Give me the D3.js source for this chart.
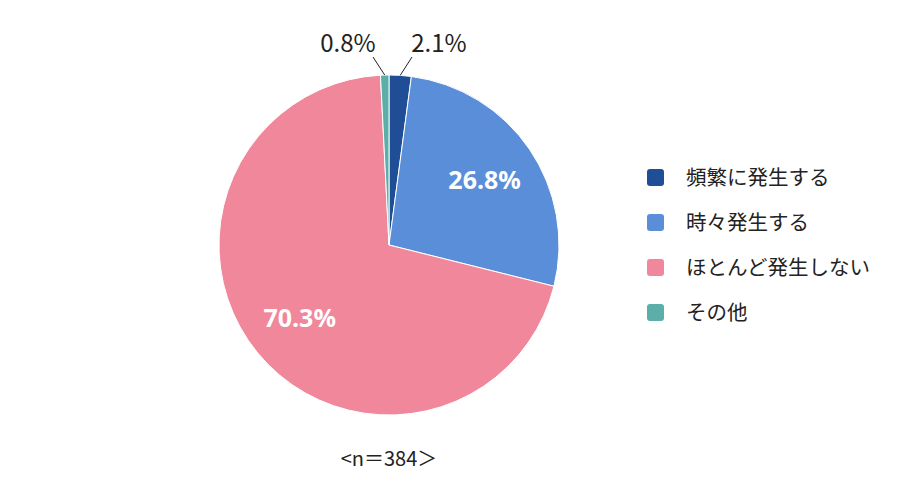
<!DOCTYPE html>
<html lang="ja">
<head>
  <meta charset="UTF-8" />
  <title>Pie chart</title>
  <style>
    body { margin: 0; background: #fff; font-family: "Noto Sans CJK JP", sans-serif; }
    svg { display: block; }
  </style>
</head>
<body>
  <svg id="chart" width="900" height="503"></svg>
  <script src="https://d3js.org/d3.v7.min.js"></script>
  <script>
    const categories = ["頻繁に発生する", "時々発生する", "ほとんど発生しない", "その他"];
    const values = [2.1, 26.8, 70.3, 0.8];
    const colors = ["#1F4E96", "#5B8ED9", "#F0879A", "#5BAFA8"];
    const sampleNote = "<n＝384＞";

    const svg = d3.select("#chart");
    const cx = 389, cy = 245, r = 170;

    const pie = d3.pie().sort(null).value(d => d)(values);
    const arc = d3.arc().innerRadius(0).outerRadius(r);

    const g = svg.append("g").attr("transform", `translate(${cx},${cy})`);

    g.selectAll("path")
      .data(pie)
      .enter().append("path")
      .attr("d", arc)
      .attr("fill", (d, i) => colors[i])
      .attr("stroke", "#fff")
      .attr("stroke-width", 1);

    // labels inside the big slices
    const inner = d3.arc().innerRadius(r * 0.68).outerRadius(r * 0.68);
    g.selectAll("text.inner")
      .data(pie.filter(d => d.data > 10))
      .enter().append("text")
      .attr("class", "inner")
      .attr("x", d => inner.centroid(d)[0])
      .attr("y", d => inner.centroid(d)[1])
      .attr("text-anchor", "middle")
      .attr("dy", "0.35em")
      .attr("fill", "#fff")
      .attr("font-weight", "bold")
      .attr("font-size", 25)
      .attr("font-family", "'Noto Sans', sans-serif")
      .text(d => d.data.toFixed(1) + "%");

    // small slices get labels outside with leader lines
    const small = pie.filter(d => d.data < 10);
    const labelPos = { 0: [439, 44], 3: [348, 44] };
    small.forEach(d => {
      const i = d.index;
      const mid = (d.startAngle + d.endAngle) / 2;
      const edge = [Math.sin(mid) * r, -Math.cos(mid) * r];
      const [lx, ly] = labelPos[i];
      const end = [lx - cx + (i === 0 ? -27 : 25), ly - cy + 13];
      g.append("line")
        .attr("x1", edge[0]).attr("y1", edge[1])
        .attr("x2", end[0]).attr("y2", end[1])
        .attr("stroke", "#222").attr("stroke-width", 1);
      svg.append("text")
        .attr("x", lx).attr("y", ly)
        .attr("text-anchor", "middle")
        .attr("dy", "0.35em")
        .attr("fill", "#222")
        .attr("font-size", 24)
        .text(d.data.toFixed(1) + "%");
    });

    // legend
    const legend = svg.append("g").attr("transform", "translate(647,178)");
    const item = legend.selectAll("g")
      .data(categories)
      .enter().append("g")
      .attr("transform", (d, i) => `translate(0,${i * 45})`);
    item.append("rect")
      .attr("x", 0).attr("y", -9)
      .attr("width", 17).attr("height", 17)
      .attr("rx", 3)
      .attr("fill", (d, i) => colors[i]);
    item.append("text")
      .attr("x", 39).attr("y", 0)
      .attr("dy", "0.35em")
      .attr("font-size", 20.5)
      .attr("fill", "#222")
      .text(d => d);

    svg.append("text")
      .attr("x", cx).attr("y", 459)
      .attr("text-anchor", "middle")
      .attr("dy", "0.35em")
      .attr("font-size", 20)
      .attr("fill", "#222")
      .text(sampleNote);
  </script>
</body>
</html>
